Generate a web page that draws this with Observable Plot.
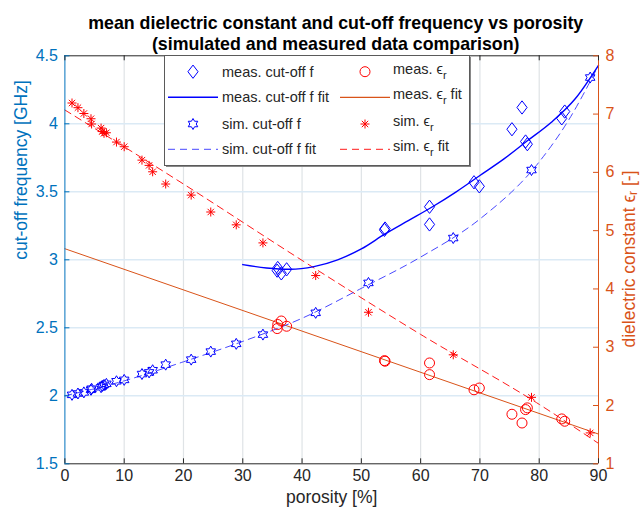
<!DOCTYPE html>
<html><head><meta charset="utf-8">
<script src="https://cdn.jsdelivr.net/npm/d3@7"></script>
<script src="https://cdn.jsdelivr.net/npm/@observablehq/plot@0.6"></script>
<style>body{margin:0;background:#fff}</style>
</head><body><div id="chart"></div>
<script>
// ---- data ----
const simPorosity = [1.2, 2.2, 3.2, 4.4, 4.5, 6.1, 6.3, 6.6, 7.0, 8.7, 10.0, 13.0, 14.2, 14.8, 17.0, 21.3, 24.6, 28.9, 33.4, 42.3, 51.2, 65.5, 78.7, 88.6];
const simCutoff = [2.007, 2.017, 2.025, 2.044, 2.052, 2.063, 2.072, 2.080, 2.088, 2.107, 2.117, 2.160, 2.172, 2.188, 2.229, 2.266, 2.325, 2.382, 2.45, 2.61, 2.83, 3.16, 3.66, 4.34];
const simEps = [7.19, 7.11, 7.01, 6.92, 6.83, 6.76, 6.70, 6.67, 6.68, 6.52, 6.44, 6.21, 6.12, 6.01, 5.80, 5.61, 5.32, 5.10, 4.79, 4.23, 3.60, 2.87, 2.14, 1.53];

const measPorosity = [35.8, 35.9, 36.5, 37.4, 53.9, 54.0, 61.5, 61.5, 69.0, 69.9, 75.4, 77.1, 77.7, 78.0, 83.8, 84.3];
const measCutoff = [2.92, 2.94, 2.90, 2.93, 3.22, 3.23, 3.26, 3.39, 3.57, 3.54, 3.96, 4.12, 3.87, 3.85, 4.04, 4.09];
const measEps = [3.32, 3.39, 3.45, 3.36, 2.77, 2.76, 2.73, 2.53, 2.27, 2.30, 1.85, 1.70, 1.93, 1.96, 1.77, 1.73];

const measCutoffFitP = [30, 34, 38, 42, 46, 50, 54, 58, 62, 66, 70, 74, 78, 82, 86, 90];
const measCutoffFitF = [2.965, 2.94, 2.93, 2.95, 3.0, 3.08, 3.19, 3.29, 3.39, 3.50, 3.62, 3.74, 3.875, 4.01, 4.18, 4.43];
const simCutoffFitP = [0, 10, 20, 30, 40, 50, 60, 70, 80, 85, 90];
const simCutoffFitF = [2.0, 2.11, 2.25, 2.40, 2.57, 2.79, 3.02, 3.30, 3.72, 4.03, 4.43];
const measEpsFitP = [0, 90];
const measEpsFitE = [4.69, 1.51];
const simEpsFitP = [0, 20, 40, 60, 80, 90];
const simEpsFitE = [7.07, 5.80, 4.49, 3.22, 2.02, 1.35];

const xTicks = [0, 10, 20, 30, 40, 50, 60, 70, 80, 90];
const fTicks = [1.5, 2, 2.5, 3, 3.5, 4, 4.5];
const epsTicks = [1, 2, 3, 4, 5, 6, 7, 8];

const titleLines = ["mean dielectric constant and cut-off frequency vs porosity", "(simulated and measured data comparison)"];
const xLabel = "porosity [%]";
const yLabelLeft = "cut-off frequency [GHz]";

// ---- styling ----
const BLUE_AX = "#0072BD", ORANGE = "#D95319", BLUE = "#0000FF", RED = "#FF0000", DARK = "#262626";
const FONT = "'Liberation Sans', Arial, Helvetica, sans-serif";
const TICK_FS = 16, LABEL_FS = 17.5, TITLE_FS = 17.8, LEG_FS = 14.5;

// right axis (eps 1..8) mapped onto left axis (1.5..4.5 GHz)
const F0 = 1.5, F1 = 4.5, E0 = 1, E1 = 8;
const eToF = e => F0 + (e - E0) * (F1 - F0) / (E1 - E0);
const fToE = f => E0 + (f - F0) * (E1 - E0) / (F1 - F0);

// custom MATLAB-like markers
const diamondSym = {draw(ctx, size) {const r = Math.sqrt(size / Math.PI); const w = r * 0.78, h = r * 1.02;
  ctx.moveTo(0, -h); ctx.lineTo(w, 0); ctx.lineTo(0, h); ctx.lineTo(-w, 0); ctx.closePath();}};
const hexagramSym = {draw(ctx, size) {const R = Math.sqrt(size / Math.PI), ri = R / Math.sqrt(3);
  for (let i = 0; i < 12; i++) {const a = -Math.PI / 2 + i * Math.PI / 6, rr = i % 2 ? ri : R;
    const x = rr * Math.cos(a), y = rr * Math.sin(a); if (i) ctx.lineTo(x, y); else ctx.moveTo(x, y);} ctx.closePath();}};
const asteriskSym = {draw(ctx, size) {const r = Math.sqrt(size / Math.PI);
  for (let i = 0; i < 4; i++) {const a = i * Math.PI / 4, c = Math.cos(a) * r, s = Math.sin(a) * r;
    ctx.moveTo(-c, -s); ctx.lineTo(c, s);}}};

const zip = (a, b, k1, k2) => a.map((v, i) => ({[k1]: v, [k2]: b[i]}));
const simF = zip(simPorosity, simCutoff, "p", "f");
const simE = zip(simPorosity, simEps, "p", "e");
const measF = zip(measPorosity, measCutoff, "p", "f");
const measE = zip(measPorosity, measEps, "p", "e");
const measFFit = zip(measCutoffFitP, measCutoffFitF, "p", "f");
const simFFit = zip(simCutoffFitP, simCutoffFitF, "p", "f");
const measEFit = zip(measEpsFitP, measEpsFitE, "p", "e");
const simEFit = zip(simEpsFitP, simEpsFitE, "p", "e");

const TX = 5 * 90 / 533.6;   // 5px tick length in x units
const TY = 5 * 3 / 408;      // 5px tick length in y units

const chart = Plot.plot({
  width: 643, height: 515,
  marginLeft: 64.4, marginRight: 45, marginTop: 55.3, marginBottom: 51.7,
  x: {domain: [0, 90]},
  y: {domain: [F0, F1]},
  style: {background: "white", fontFamily: FONT, fontSize: "16px", color: DARK, overflow: "visible"},
  marks: [
    // grid
    Plot.ruleX(xTicks.slice(1, -1), {stroke: "#dfe3e6", strokeWidth: 1.2}),
    Plot.ruleY(fTicks.slice(1, -1), {stroke: "#dbeaf5", strokeWidth: 1.5}),
    // fits
    Plot.line(measEFit, {x: "p", y: d => eToF(d.e), stroke: ORANGE, strokeWidth: 1}),
    Plot.line(simEFit, {x: "p", y: d => eToF(d.e), stroke: RED, strokeWidth: 0.9, strokeDasharray: "7,5", curve: "monotone-x"}),
    Plot.line(simFFit, {x: "p", y: "f", stroke: "#3333ff", strokeWidth: 0.9, strokeDasharray: "7,5", curve: "monotone-x"}),
    Plot.line(measFFit, {x: "p", y: "f", stroke: BLUE, strokeWidth: 1.4, curve: "monotone-x"}),
    // markers
    Plot.dot(simF, {x: "p", y: "f", symbol: hexagramSym, r: 5.5, stroke: BLUE, strokeWidth: 1, fill: "none"}),
    Plot.dot(measF, {x: "p", y: "f", symbol: diamondSym, r: 6.5, stroke: BLUE, strokeWidth: 1, fill: "none"}),
    Plot.dot(measE, {x: "p", y: d => eToF(d.e), symbol: "circle", r: 5, stroke: RED, strokeWidth: 1, fill: "none"}),
    Plot.dot(simE, {x: "p", y: d => eToF(d.e), symbol: asteriskSym, r: 4.5, stroke: RED, strokeWidth: 1}),
    // axes lines
    Plot.ruleY([F0], {stroke: DARK}),
    Plot.ruleY([F1], {stroke: DARK}),
    Plot.ruleX([0], {stroke: BLUE_AX}),
    Plot.ruleX([90], {stroke: ORANGE}),
    // inward ticks
    Plot.ruleX(xTicks, {y1: F0, y2: F0 + TY, stroke: DARK}),
    Plot.ruleX(xTicks, {y1: F1, y2: F1 - TY, stroke: DARK}),
    Plot.ruleY(fTicks, {x1: 0, x2: TX, stroke: BLUE_AX}),
    Plot.ruleY(epsTicks.map(eToF), {x1: 90, x2: 90 - TX, stroke: ORANGE}),
    // tick labels
    Plot.axisX({ticks: xTicks, tickSize: 0, tickPadding: 6, tickFormat: d => String(d), color: DARK, fontSize: TICK_FS, label: null}),
    Plot.axisY({ticks: fTicks, tickSize: 0, tickPadding: 7, tickFormat: d => String(d), color: BLUE_AX, fontSize: TICK_FS, label: null}),
    Plot.axisY({anchor: "right", ticks: epsTicks.map(eToF), tickSize: 0, tickPadding: 7,
      tickFormat: v => String(Math.round(fToE(v))), color: ORANGE, fontSize: TICK_FS, label: null}),
    // titles & labels
    Plot.text([titleLines[0]], {frameAnchor: "top", dx: 4, dy: -33, fontWeight: "bold", fontSize: TITLE_FS, fill: "#000", lineAnchor: "middle"}),
    Plot.text([titleLines[1]], {frameAnchor: "top", dx: 4, dy: -12, fontWeight: "bold", fontSize: TITLE_FS, fill: "#000", lineAnchor: "middle"}),
    Plot.text([xLabel], {frameAnchor: "bottom", dy: 34, fontSize: LABEL_FS, fill: DARK, lineAnchor: "middle"}),
    Plot.text([yLabelLeft], {frameAnchor: "left", dx: -44, rotate: -90, fontSize: LABEL_FS, fill: BLUE_AX, lineAnchor: "middle"})
  ]
});
document.getElementById("chart").appendChild(chart);

// ---- right axis label & legend (layout only) ----
const svg = d3.select(chart);
const rl = svg.append("text").attr("transform", "translate(630,259) rotate(-90)")
  .attr("text-anchor", "middle").attr("dominant-baseline", "middle")
  .attr("font-family", FONT).attr("font-size", LABEL_FS).attr("fill", ORANGE);
rl.append("tspan").text("dielectric constant ");
rl.append("tspan").text("ϵ");
rl.append("tspan").attr("dy", 4).attr("font-size", 12).text("r");
rl.append("tspan").attr("dy", -4).text(" [-]");

const lg = svg.append("g").attr("font-family", FONT).attr("font-size", LEG_FS).attr("fill", DARK).attr("text-anchor", "start");
lg.append("rect").attr("x", 166).attr("y", 57).attr("width", 305).attr("height", 110).attr("fill", "#888");
lg.append("rect").attr("x", 164.5).attr("y", 55.5).attr("width", 305).attr("height", 110)
  .attr("fill", "white").attr("stroke", "#5a5a5a").attr("stroke-width", 1);

const rows = [71.7, 97.3, 124, 149.3];
const c1 = {x0: 168, x1: 218, xt: 222}, c2 = {x0: 340, x1: 390, xt: 393};
const sym = (cx, cy, type, r, color) => lg.append("path")
  .attr("d", d3.symbol(type, Math.PI * r * r)()).attr("transform", `translate(${cx},${cy})`)
  .attr("fill", "none").attr("stroke", color).attr("stroke-width", 1);
const seg = (c, cy, color, w, dash) => lg.append("line").attr("x1", c.x0).attr("x2", c.x1).attr("y1", cy).attr("y2", cy)
  .attr("stroke", color).attr("stroke-width", w).attr("stroke-dasharray", dash || null);
const plain = (c, cy, s) => lg.append("text").attr("x", c.xt).attr("y", cy + 5).text(s);
const epsText = (c, cy, pre, post) => {
  const t = lg.append("text").attr("x", c.xt).attr("y", cy + 2);
  t.append("tspan").text(pre + "ϵ");
  t.append("tspan").attr("dy", 5).attr("font-size", 11).text("r");
  if (post) t.append("tspan").attr("dy", -5).text(post);
};

sym((c1.x0 + c1.x1) / 2, rows[0], diamondSym, 6.5, BLUE); plain(c1, rows[0], "meas. cut-off f");
sym((c2.x0 + c2.x1) / 2, rows[0], d3.symbolCircle, 5, RED); epsText(c2, rows[0], "meas. ", "");
seg(c1, rows[1], BLUE, 1.4); plain(c1, rows[1], "meas. cut-off f fit");
seg(c2, rows[1], ORANGE, 1.2); epsText(c2, rows[1], "meas. ", " fit");
sym((c1.x0 + c1.x1) / 2, rows[2], hexagramSym, 5.5, BLUE); plain(c1, rows[2], "sim. cut-off f");
sym((c2.x0 + c2.x1) / 2, rows[2], asteriskSym, 4.5, RED); epsText(c2, rows[2], "sim. ", "");
seg(c1, rows[3], "#3333ff", 0.9, "7,5"); plain(c1, rows[3], "sim. cut-off f fit");
seg(c2, rows[3], RED, 0.9, "7,5"); epsText(c2, rows[3], "sim. ", " fit");
</script></body></html>
